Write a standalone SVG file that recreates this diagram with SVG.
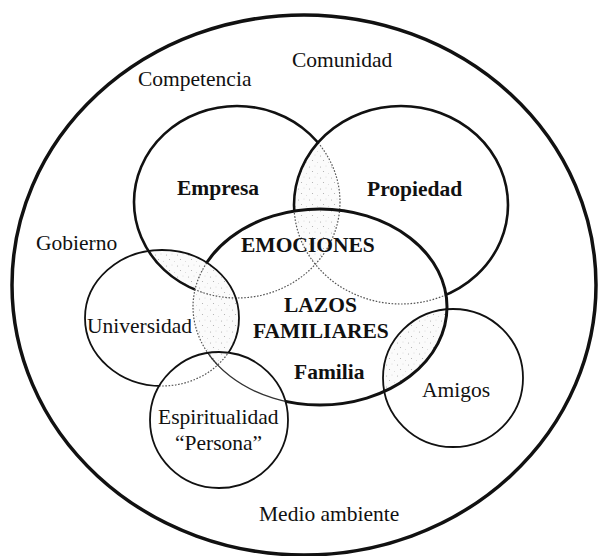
<svg xmlns="http://www.w3.org/2000/svg" width="599" height="556" viewBox="0 0 599 556">
  <style>
    .lbl { font-family: "Liberation Serif", "Times New Roman", serif; font-size: 21.5px; fill: #111; }
    .b { font-weight: bold; }
    .ring { fill: none; stroke: #111; }
    .heavy { stroke-width: 2.6; }
    .light { stroke-width: 1.8; }
    .dot { fill: none; stroke: #555; stroke-width: 1.2; stroke-dasharray: 1.6 1.6; }
    .faint { fill: none; stroke: #333; stroke-width: 1.3; }
  </style>
  <defs>
    <!-- speckled grey used for the overlapping areas -->
    <pattern id="stip" width="11" height="11" patternUnits="userSpaceOnUse">
      <rect width="11" height="11" fill="#fbfbfb"/>
      <circle cx="1.5" cy="2" r="0.55" fill="#aaa"/>
      <circle cx="7" cy="1" r="0.45" fill="#bbb"/>
      <circle cx="4.5" cy="6.5" r="0.55" fill="#aaa"/>
      <circle cx="9.5" cy="8.5" r="0.45" fill="#bbb"/>
    </pattern>

    <clipPath id="c-emp"><ellipse cx="237" cy="202" rx="103" ry="96"/></clipPath>
    <clipPath id="c-prop"><ellipse cx="401" cy="205" rx="107" ry="99"/></clipPath>
    <clipPath id="c-emoc"><ellipse cx="320" cy="307" rx="127" ry="98"/></clipPath>
    <clipPath id="c-univ"><ellipse cx="162" cy="318" rx="77" ry="68"/></clipPath>
    <clipPath id="c-ami"><ellipse cx="453" cy="378" rx="70" ry="69"/></clipPath>
    <clipPath id="c-espi"><ellipse cx="219" cy="420" rx="69" ry="68"/></clipPath>
    <clipPath id="c-prop-emoc">
      <ellipse cx="401" cy="205" rx="107" ry="99"/>
      <ellipse cx="320" cy="307" rx="127" ry="98"/>
    </clipPath>

    <!-- masks keep the solid outline only where a circle is not covered -->
    <mask id="m-emp" maskUnits="userSpaceOnUse" x="0" y="0" width="599" height="556">
      <rect width="599" height="556" fill="#fff"/>
      <ellipse cx="401" cy="205" rx="107" ry="99" fill="#000"/>
      <ellipse cx="320" cy="307" rx="127" ry="98" fill="#000"/>
    </mask>
    <mask id="m-prop" maskUnits="userSpaceOnUse" x="0" y="0" width="599" height="556">
      <rect width="599" height="556" fill="#fff"/>
      <ellipse cx="320" cy="307" rx="127" ry="98" fill="#000"/>
    </mask>
    <mask id="m-emoc" maskUnits="userSpaceOnUse" x="0" y="0" width="599" height="556">
      <rect width="599" height="556" fill="#fff"/>
      <ellipse cx="162" cy="318" rx="77" ry="68" fill="#000"/>
      <ellipse cx="219" cy="420" rx="69" ry="68" fill="#000"/>
    </mask>
    <mask id="m-univ" maskUnits="userSpaceOnUse" x="0" y="0" width="599" height="556">
      <rect width="599" height="556" fill="#fff"/>
      <ellipse cx="219" cy="420" rx="69" ry="68" fill="#000"/>
    </mask>
  </defs>

  <rect width="599" height="556" fill="#fff"/>

  <!-- shaded overlaps -->
  <g id="overlaps">
    <g clip-path="url(#c-emp)"><rect x="0" y="0" width="599" height="556" fill="url(#stip)" clip-path="url(#c-prop)"/></g>
    <g clip-path="url(#c-emp)"><rect x="0" y="0" width="599" height="556" fill="url(#stip)" clip-path="url(#c-univ)"/></g>
    <g clip-path="url(#c-univ)"><rect x="0" y="0" width="599" height="556" fill="url(#stip)" clip-path="url(#c-emoc)"/></g>
    <g clip-path="url(#c-emoc)"><rect x="0" y="0" width="599" height="556" fill="url(#stip)" clip-path="url(#c-ami)"/></g>
  </g>

  <!-- surrounding environment -->
  <g id="entorno">
    <ellipse class="ring" cx="304" cy="285" rx="292" ry="270" stroke-width="3.5"/>
    <text class="lbl" x="292" y="67">Comunidad</text>
    <text class="lbl" x="138" y="86">Competencia</text>
    <text class="lbl" x="36" y="250">Gobierno</text>
    <text class="lbl" x="259" y="521">Medio ambiente</text>
  </g>

  <g id="empresa">
    <ellipse class="ring heavy" cx="237" cy="202" rx="103" ry="96" mask="url(#m-emp)"/>
    <ellipse class="dot" cx="237" cy="202" rx="103" ry="96" clip-path="url(#c-prop-emoc)"/>
    <text class="lbl b" x="177" y="195">Empresa</text>
  </g>

  <g id="propiedad">
    <ellipse class="ring heavy" cx="401" cy="205" rx="107" ry="99" mask="url(#m-prop)"/>
    <ellipse class="dot" cx="401" cy="205" rx="107" ry="99" clip-path="url(#c-emoc)"/>
    <text class="lbl b" x="367" y="196">Propiedad</text>
  </g>

  <g id="familia">
    <ellipse class="ring" cx="320" cy="307" rx="127" ry="98" stroke-width="3" mask="url(#m-emoc)"/>
    <ellipse class="dot" cx="320" cy="307" rx="127" ry="98" clip-path="url(#c-univ)"/>
    <ellipse class="faint" cx="320" cy="307" rx="127" ry="98" clip-path="url(#c-espi)"/>
    <text class="lbl b" x="241" y="252">EMOCIONES</text>
    <text class="lbl b" x="284" y="312">LAZOS</text>
    <text class="lbl b" x="253" y="338">FAMILIARES</text>
    <text class="lbl b" x="294" y="379">Familia</text>
  </g>

  <g id="universidad">
    <ellipse class="ring light" cx="162" cy="318" rx="77" ry="68" mask="url(#m-univ)"/>
    <ellipse class="dot" cx="162" cy="318" rx="77" ry="68" clip-path="url(#c-espi)"/>
    <text class="lbl" x="87" y="333">Universidad</text>
  </g>

  <g id="amigos">
    <ellipse class="ring light" cx="453" cy="378" rx="70" ry="69"/>
    <text class="lbl" x="422" y="397">Amigos</text>
  </g>

  <g id="espiritualidad">
    <ellipse class="ring light" cx="219" cy="420" rx="69" ry="68"/>
    <text class="lbl" x="158" y="424">Espiritualidad</text>
    <text class="lbl" x="175" y="450">“Persona”</text>
  </g>
</svg>
